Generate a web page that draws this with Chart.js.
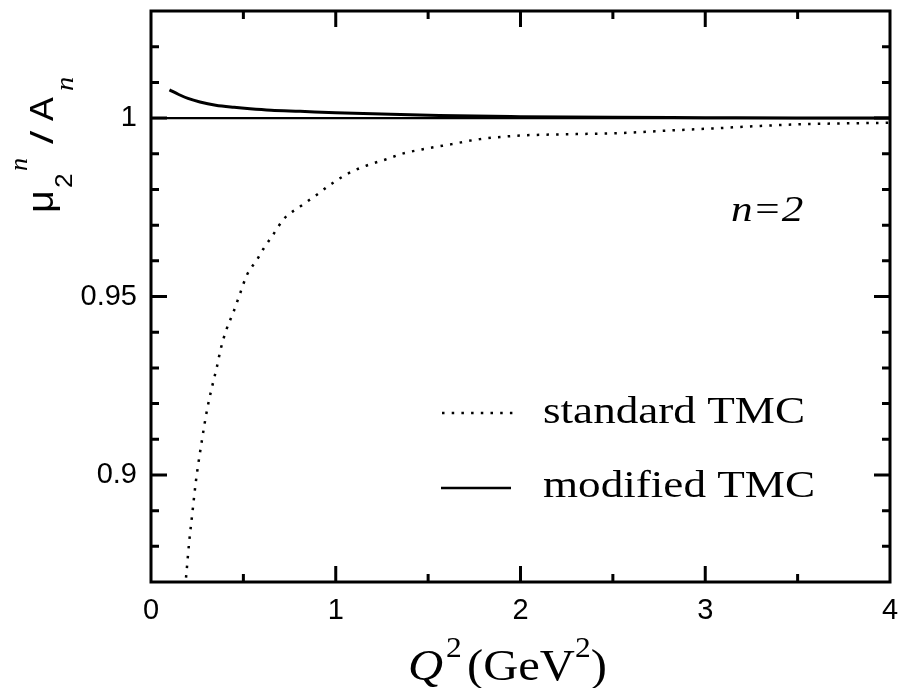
<!DOCTYPE html>
<html><head><meta charset="utf-8">
<script src="https://cdn.jsdelivr.net/npm/chart.js@4.4.1/dist/chart.umd.min.js"></script>
<style>html,body{margin:0;padding:0;background:#fff;overflow:hidden}#wrap{width:899px;height:688px}</style>
</head><body><div id="wrap"><canvas id="c" width="899" height="688"></canvas></div>
<script>
// ---- data ----
const stdQ2 = [0.185, 0.193, 0.207, 0.224, 0.242, 0.256, 0.272, 0.289, 0.307, 0.330, 0.355, 0.377, 0.406, 0.446, 0.482, 0.518, 0.576, 0.608, 0.662, 0.722, 0.807, 0.892, 0.978, 1.068, 1.162, 1.27, 1.366, 1.466, 1.628, 1.78, 2.0, 2.3, 2.54, 2.8, 3.08, 3.3, 3.53, 3.75, 4.0];
const stdRatio = [0.8685, 0.8732, 0.8814, 0.8894, 0.8978, 0.9031, 0.9085, 0.9140, 0.9192, 0.9246, 0.9299, 0.9352, 0.9404, 0.9456, 0.9508, 0.9559, 0.9605, 0.9633, 0.9674, 0.9719, 0.9752, 0.9783, 0.9816, 0.9845, 0.9866, 0.9884, 0.9901, 0.9912, 0.9927, 0.9941, 0.9951, 0.9955, 0.9958, 0.9965, 0.9972, 0.9978, 0.9983, 0.9985, 0.9987];
const modQ2 = [0.1, 0.15, 0.2, 0.265, 0.35, 0.45, 0.536, 0.65, 0.807, 1.0, 1.2, 1.56, 2.0, 2.5, 3.0, 3.5, 4.0];
const modRatio = [1.0079, 1.0066, 1.0055, 1.0045, 1.0036, 1.0030, 1.0026, 1.0022, 1.0019, 1.0015, 1.0012, 1.0007, 1.0004, 1.0002, 1.0001, 1.0, 1.0];
const unityQ2 = [0, 4];
const unityRatio = [1, 1];
const seriesNames = ['standard TMC', 'modified TMC'];
const annotationText = 'n=2';
const xTickLabels = [0, 1, 2, 3, 4];
const xMinorTicks = [0.5, 1.5, 2.5, 3.5];
const yTickLabels = [0.9, 0.95, 1];
const yMinorTicks = [0.88, 0.89, 0.91, 0.92, 0.93, 0.94, 0.96, 0.97, 0.98, 0.99, 1.01, 1.02];

const pts = (xs, ys) => xs.map((x, i) => ({x: x, y: ys[i]}));

function sText(ctx, str, x, y, font, sx) {
  ctx.save(); ctx.font = font; ctx.textAlign = 'left'; ctx.textBaseline = 'alphabetic';
  const w = ctx.measureText(str).width * sx;
  ctx.translate(x, y); ctx.scale(sx, 1); ctx.fillText(str, 0, 0); ctx.restore();
  return w;
}
function rText(ctx, str, xBase, yStart, font, s) {
  ctx.save(); ctx.font = font; ctx.textAlign = 'left'; ctx.textBaseline = 'alphabetic';
  ctx.translate(xBase, yStart); ctx.rotate(-Math.PI / 2); ctx.scale(s, 1);
  ctx.fillText(str, 0, 0); ctx.restore();
}

const framePlugin = {
  id: 'frame',
  afterDraw(chart) {
    const ctx = chart.ctx, a = chart.chartArea, xs = chart.scales.x, ys = chart.scales.y;
    ctx.save();
    ctx.strokeStyle = '#000'; ctx.fillStyle = '#000';
    ctx.lineWidth = 3; ctx.lineCap = 'butt';
    ctx.strokeRect(a.left, a.top, a.right - a.left, a.bottom - a.top);
    const tick = (v, len, isX) => {
      ctx.beginPath();
      if (isX) {
        const p = xs.getPixelForValue(v);
        ctx.moveTo(p, a.bottom); ctx.lineTo(p, a.bottom - len);
        ctx.moveTo(p, a.top); ctx.lineTo(p, a.top + len);
      } else {
        const p = ys.getPixelForValue(v);
        ctx.moveTo(a.left, p); ctx.lineTo(a.left + len, p);
        ctx.moveTo(a.right, p); ctx.lineTo(a.right - len, p);
      }
      ctx.stroke();
    };
    xTickLabels.slice(1, -1).forEach(v => tick(v, 16, true));
    xMinorTicks.forEach(v => tick(v, 8, true));
    yTickLabels.forEach(v => tick(v, 16, false));
    yMinorTicks.forEach(v => tick(v, 8, false));

    // legend
    ctx.lineWidth = 2.5;
    ctx.setLineDash([2.5, 7.2]);
    ctx.beginPath(); ctx.moveTo(442, 413); ctx.lineTo(514, 413); ctx.stroke();
    ctx.setLineDash([]);
    ctx.beginPath(); ctx.moveTo(441, 488); ctx.lineTo(511, 488); ctx.stroke();
    sText(ctx, seriesNames[0], 543, 423, '37px "Liberation Serif"', 1.22);
    sText(ctx, seriesNames[1], 543, 497, '37px "Liberation Serif"', 1.22);

    // annotation n=2
    sText(ctx, annotationText, 731, 221, 'italic 36px "Liberation Serif"', 1.2);

    // x title: Q^2 (GeV^2)
    let x = 408;
    x += sText(ctx, 'Q', x, 680, 'italic 45px "Liberation Serif"', 1.08);
    sText(ctx, '2', x + 3, 657, '30px "Liberation Serif"', 1.05);
    x = 467;
    x += sText(ctx, '(GeV', x, 680, '45px "Liberation Serif"', 1.08);
    x += sText(ctx, '2', x, 657, '30px "Liberation Serif"', 1.05);
    sText(ctx, ')', x, 680, '45px "Liberation Serif"', 1.08);

    // y title: mu_2^n / A_n
    rText(ctx, '\u03bc', 53, 213, '36px "Liberation Sans"', 1.1);
    rText(ctx, '2', 72, 188, '24px "Liberation Sans"', 1.1);
    rText(ctx, 'n', 27, 171, 'italic 26px "Liberation Serif"', 1.0);
    rText(ctx, '/', 53, 144, '32px "Liberation Sans"', 1.5);
    rText(ctx, 'A', 53, 121, '34px "Liberation Sans"', 1.05);
    rText(ctx, 'n', 73, 91, 'italic 26px "Liberation Serif"', 1.1);
    ctx.restore();
  }
};

const noPad = s => { s.paddingTop = 0; s.paddingBottom = 0; s.paddingLeft = 0; s.paddingRight = 0; };

new Chart(document.getElementById('c'), {
  type: 'line',
  data: {
    datasets: [
      { label: seriesNames[0], data: pts(stdQ2, stdRatio), borderColor: '#000', borderWidth: 2.5,
        borderDash: [2.5, 7.2], pointRadius: 0, fill: false, cubicInterpolationMode: 'monotone' },
      { label: seriesNames[1], data: pts(modQ2, modRatio), borderColor: '#000', borderWidth: 3,
        pointRadius: 0, fill: false, cubicInterpolationMode: 'monotone' },
      { label: 'unity', data: pts(unityQ2, unityRatio), borderColor: '#000', borderWidth: 2.2,
        pointRadius: 0, fill: false }
    ]
  },
  options: {
    responsive: false, animation: false, devicePixelRatio: 1,
    layout: { padding: { left: 0, right: 9, top: 11, bottom: 0 } },
    plugins: { legend: { display: false }, tooltip: { enabled: false } },
    scales: {
      x: {
        type: 'linear', min: 0, max: 4,
        afterBuildTicks: s => { s.ticks = xTickLabels.map(v => ({value: v})); },
        afterFit: s => { s.height = 106; noPad(s); },
        grid: { display: false, drawTicks: false },
        border: { display: false },
        ticks: { color: '#000', font: { family: '"Liberation Sans"', size: 29 }, padding: 12,
          autoSkip: false, maxRotation: 0, callback: v => String(v) }
      },
      y: {
        type: 'linear', min: 0.87, max: 1.03,
        afterBuildTicks: s => { s.ticks = yTickLabels.map(v => ({value: v})); },
        afterFit: s => { s.width = 151; noPad(s); },
        grid: { display: false, drawTicks: false },
        border: { display: false },
        ticks: { color: '#000', font: { family: '"Liberation Sans"', size: 29 }, padding: 14,
          autoSkip: false, callback: v => String(v) }
      }
    }
  },
  plugins: [framePlugin]
});
</script></body></html>
